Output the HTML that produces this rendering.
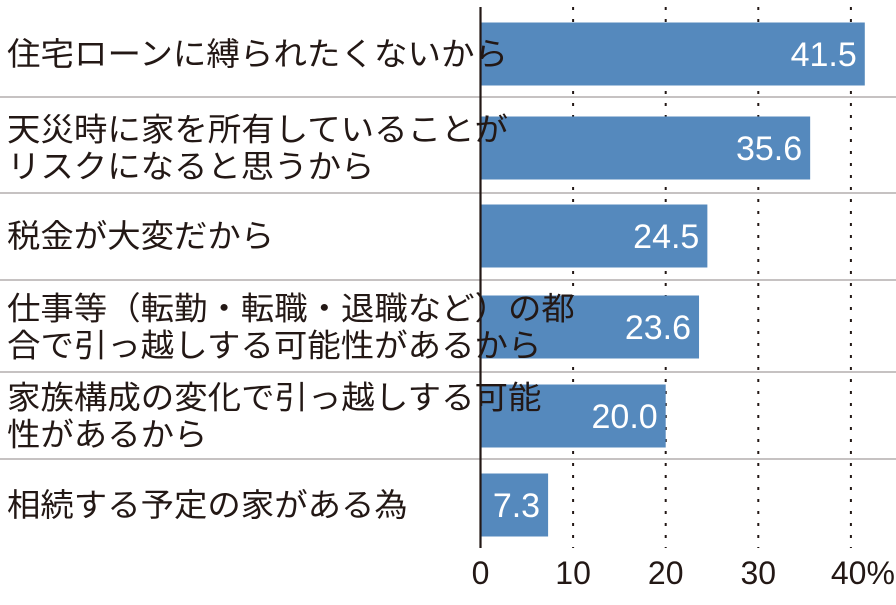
<!DOCTYPE html>
<html><head><meta charset="utf-8"><style>
body{margin:0;background:#fff;width:896px;height:600px;overflow:hidden}
svg text{font-family:"Liberation Sans","Noto Sans CJK JP",sans-serif}
</style></head><body>
<svg id="c" width="896" height="600"></svg>
<script>
const categories=[["住宅ローンに縛られたくないから"],["天災時に家を所有していることが","リスクになると思うから"],["税金が大変だから"],["仕事等（転勤・転職・退職など）の都","合で引っ越しする可能性があるから"],["家族構成の変化で引っ越しする可能","性があるから"],["相続する予定の家がある為"]];
const values=[41.5,35.6,24.5,23.6,20.0,7.3];
const tickValues=[0,10,20,30,40];
const tickLabels=["0","10","20","30","40%"];
const NS="http://www.w3.org/2000/svg";
const svg=document.getElementById('c');
const x0=480.5,pxPer=9.26;
const xs=v=>x0+v*pxPer;
const rowTop=[7,97,193,280,372,459],rowH=[90,96,87,92,87,90];
const barC=[54,148,236,327,416,505];
function mk(t,a){const e=document.createElementNS(NS,t);for(const k in a)e.setAttribute(k,a[k]);svg.appendChild(e);return e;}
// gridlines
tickValues.forEach((v,i)=>{if(v===0)return;
 const g=mk('line',{x1:xs(v),x2:xs(v),y1:7,y2:548,stroke:'#231815','stroke-width':2,'stroke-dasharray':'3 9'});
 
 
});
// separators
[97,193,280,372,459].forEach((y,i)=>{
 const s=mk('line',{x1:0,x2:896,y1:y,y2:y,stroke:'#a39e9e','stroke-width':1.3});
 
 
});
values.forEach((v,i)=>{
 const c=barC[i];
 const r=mk('rect',{x:x0,y:c-31.5,width:xs(v)-x0,height:63,fill:'#5589bd'});
 
 
 const t=mk('text',{x:xs(v)-8,y:c+12,'text-anchor':'end',fill:'#fff','font-size':34});
 t.textContent=v.toFixed(1);
 
 
 const lines=categories[i];
 lines.forEach((ln,j)=>{
  const yy=c+11+(j-(lines.length-1)/2)*37;
  const l=mk('text',{x:7,y:yy,fill:'#231815','font-size':32,textLength:ln.length*33.4,lengthAdjust:'spacingAndGlyphs'});
  l.textContent=ln;
  
  
 });
});
const ax=mk('line',{x1:x0,x2:x0,y1:7,y2:548,stroke:'#231815','stroke-width':2.2});


tickValues.forEach((v,i)=>{
 const t=mk('text',{x:xs(v)+(i===4?12:0),y:584,'text-anchor':'middle',fill:'#231815','font-size':32});
 t.textContent=tickLabels[i];
 
 
});
</script>
</body></html>
